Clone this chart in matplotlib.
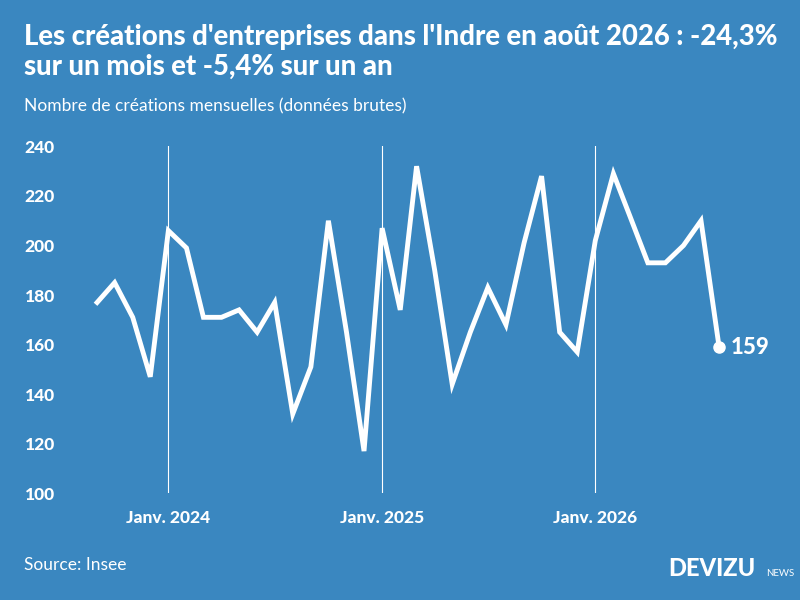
import matplotlib.pyplot as plt
import pandas as pd

months = pd.date_range('2023-09-01', '2026-08-01', freq='MS')
values = [177, 185, 171, 147, 206, 199, 171, 171, 174, 165, 177, 132,
          151, 210, 165, 117, 207, 174, 232, 190, 144, 165, 183, 168,
          201, 228, 165, 157, 202, 229, 212, 193, 193, 200, 210, 159]
jan_ticks = pd.to_datetime(['2024-01-01', '2025-01-01', '2026-01-01'])
jan_labels = ['Janv. 2024', 'Janv. 2025', 'Janv. 2026']
yticks = [100, 120, 140, 160, 180, 200, 220, 240]

bg = '#3a87c0'
plt.rcParams['font.family'] = ['Lato', 'DejaVu Sans']

fig = plt.figure(figsize=(8, 6), dpi=100, facecolor=bg)
ax = fig.add_axes([0.09, 0.178, 0.86, 0.578], facecolor=bg)

for t in jan_ticks:
    ax.axvline(t, color='white', lw=0.8)
ax.plot(months, values, color='white', lw=3.5, solid_joinstyle='miter')
ax.plot(months[-1], values[-1], 'o', color='white', ms=8)
ax.annotate(str(values[-1]), (months[-1], values[-1]), xytext=(8, 0),
            textcoords='offset points', va='center', color='white',
            fontsize=16, fontweight='black')

ax.set_ylim(100, 240)
ax.set_xlim(months[0] - pd.Timedelta(days=43), months[-1] + pd.Timedelta(days=70))
ax.set_yticks(yticks)
ax.set_xticks(jan_ticks)
ax.set_xticklabels(jan_labels)
ax.tick_params(colors='white', length=0, labelsize=12.5)
ax.tick_params(axis='x', pad=12)
for lab in ax.get_xticklabels() + ax.get_yticklabels():
    lab.set_fontweight('black')
ax.yaxis.set_tick_params(pad=34)
for lab in ax.get_yticklabels():
    lab.set_horizontalalignment('left')
for s in ax.spines.values():
    s.set_visible(False)

fig.text(0.03, 0.96, "Les créations d'entreprises dans l'Indre en août 2026 : -24,3%\nsur un mois et -5,4% sur un an",
         color='white', fontsize=19.8, fontweight='black', va='top', linespacing=1.2)
fig.text(0.03, 0.815, 'Nombre de créations mensuelles (données brutes)', color='white', fontsize=12.5)
fig.text(0.03, 0.05, 'Source: Insee', color='white', fontsize=12.5)
fig.text(0.835, 0.04, 'DEVIZU', color='white', fontsize=17, fontweight='black')
fig.text(0.958, 0.04, 'NEWS', color='white', fontsize=7)

fig.savefig('out.png', facecolor=bg)
